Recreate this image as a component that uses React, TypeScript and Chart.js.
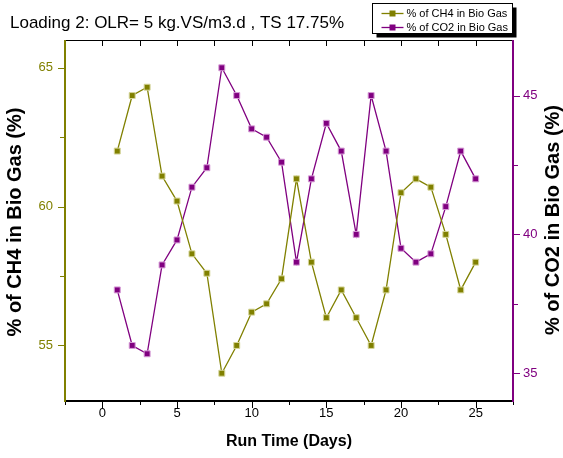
import { useEffect, useRef } from 'react';
import { Chart, registerables } from 'chart.js';

Chart.register(...registerables);

// ---- data ----
const days = [1, 2, 3, 4, 5, 6, 7, 8, 9, 10, 11, 12, 13, 14, 15, 16, 17, 18, 19, 20, 21, 22, 23, 24, 25];
const ch4Percent = [62, 64, 64.3, 61.1, 60.2, 58.3, 57.6, 54, 55, 56.2, 56.5, 57.4, 61, 58, 56, 57, 56, 55, 57, 60.5, 61, 60.7, 59, 57, 58];
const co2Percent = [38, 36, 35.7, 38.9, 39.8, 41.7, 42.4, 46, 45, 43.8, 43.5, 42.6, 39, 42, 44, 43, 40, 45, 43, 39.5, 39, 39.3, 41, 43, 42];
const xTickValues = [0, 5, 10, 15, 20, 25];
const leftTickValues = [55, 60, 65];
const rightTickValues = [35, 40, 45];
const seriesNames = ['% of CH4 in Bio Gas', '% of CO2 in Bio Gas'];
const chartTitle = 'Loading 2: OLR= 5 kg.VS/m3.d , TS 17.75%';
const xTitle = 'Run Time (Days)';
const leftTitle = '% of CH4 in Bio Gas (%)';
const rightTitle = '% of CO2 in Bio Gas (%)';

const OLIVE = '#808000';
const PURPLE = '#800080';
const FONT = '"Liberation Sans", Arial, Helvetica, sans-serif';
const MINOR_STEP = 2.5;

const decor = {
  id: 'decor',
  afterDraw(chart: any) {
    const { ctx, chartArea: a, scales } = chart;
    const xs = scales.x, yl = scales.y, yr = scales.y1;
    ctx.save();
    const line = (x1: number, y1: number, x2: number, y2: number) => {
      ctx.beginPath();
      ctx.moveTo(x1, y1);
      ctx.lineTo(x2, y2);
      ctx.stroke();
    };
    const L = Math.round(a.left), R = Math.round(a.right), T = Math.round(a.top), B = Math.round(a.bottom);

    // x ticks (bottom outward, top inward)
    ctx.strokeStyle = '#000';
    ctx.lineWidth = 1;
    const xStart = Math.ceil(xs.min / MINOR_STEP - 1e-9) * MINOR_STEP;
    for (let v = xStart; v <= xs.max + 1e-9; v += MINOR_STEP) {
      const px = Math.round(xs.getPixelForValue(v)) + 0.5;
      const major = Math.abs(v % 5) < 1e-6;
      line(px, B, px, B + (major ? 7 : 4));
      line(px, T, px, T + 6);
    }
    // left ticks
    ctx.strokeStyle = OLIVE;
    const ylStart = Math.ceil(yl.min / MINOR_STEP - 1e-9) * MINOR_STEP;
    for (let v = ylStart; v <= yl.max + 1e-9; v += MINOR_STEP) {
      const py = Math.round(yl.getPixelForValue(v)) + 0.5;
      const major = Math.abs(v % 5) < 1e-6;
      line(L, py, L - (major ? 7 : 5), py);
    }
    // right ticks
    ctx.strokeStyle = PURPLE;
    const yrStart = Math.ceil(yr.min / MINOR_STEP - 1e-9) * MINOR_STEP;
    for (let v = yrStart; v <= yr.max + 1e-9; v += MINOR_STEP) {
      const py = Math.round(yr.getPixelForValue(v)) + 0.5;
      const major = Math.abs(v % 5) < 1e-6;
      line(R, py, R + (major ? 7 : 5), py);
    }

    // frame
    ctx.strokeStyle = '#000';
    ctx.lineWidth = 1;
    line(L, T + 0.5, R, T + 0.5);
    ctx.lineWidth = 2;
    line(L, B, R, B);
    ctx.strokeStyle = OLIVE;
    ctx.lineWidth = 2;
    line(L, T, L, B + 1);
    ctx.strokeStyle = PURPLE;
    line(R, T, R, B + 1);

    // titles
    ctx.fillStyle = '#000';
    ctx.font = `17px ${FONT}`;
    ctx.textAlign = 'left';
    ctx.textBaseline = 'alphabetic';
    ctx.fillText(chartTitle, 10, 28);

    ctx.font = `bold 16px ${FONT}`;
    ctx.textAlign = 'center';
    ctx.textBaseline = 'middle';
    ctx.fillText(xTitle, (L + R) / 2, 442);

    ctx.font = `bold 20px ${FONT}`;
    ctx.save();
    ctx.translate(15, 222);
    ctx.rotate(-Math.PI / 2);
    ctx.fillText(leftTitle, 0, 0);
    ctx.restore();
    ctx.save();
    ctx.translate(553, 220);
    ctx.rotate(-Math.PI / 2);
    ctx.fillText(rightTitle, 0, 0);
    ctx.restore();

    // legend
    const bx = 372.5, by = 3.5, bw = 140, bh = 30;
    ctx.fillStyle = '#000';
    ctx.fillRect(bx + 4, by + 4, bw, bh);
    ctx.fillStyle = '#fff';
    ctx.fillRect(bx, by, bw, bh);
    ctx.strokeStyle = '#000';
    ctx.lineWidth = 1;
    ctx.strokeRect(bx, by, bw, bh);
    const colors = [OLIVE, PURPLE];
    chart.data.datasets.forEach((ds: any, i: number) => {
      const ly = Math.round(by + 9 + i * 14.5) + 0.5;
      ctx.strokeStyle = colors[i];
      ctx.lineWidth = 1.3;
      line(bx + 9, ly, bx + 31, ly);
      ctx.fillStyle = colors[i];
      ctx.fillRect(bx + 17, ly - 3, 6, 6);
      ctx.fillStyle = '#000';
      ctx.font = `11px ${FONT}`;
      ctx.textAlign = 'left';
      ctx.textBaseline = 'middle';
      ctx.fillText(ds.label, bx + 34, ly);
    });
    ctx.restore();
  },
};

export default function App() {
  const canvasRef = useRef<HTMLCanvasElement | null>(null);

  useEffect(() => {
    const canvas = canvasRef.current;
    if (!canvas) return;
    const chart = new Chart(canvas, {
      type: 'line',
      data: {
        datasets: [
          {
            label: seriesNames[0],
            data: days.map((d, i) => ({ x: d, y: ch4Percent[i] })),
            yAxisID: 'y',
            borderColor: OLIVE,
            backgroundColor: OLIVE,
            pointBackgroundColor: OLIVE,
            pointBorderColor: '#d6d69a',
            pointBorderWidth: 1,
            pointStyle: 'rect',
            pointRadius: 4.2,
            borderWidth: 1.3,
            tension: 0,
            clip: false,
          },
          {
            label: seriesNames[1],
            data: days.map((d, i) => ({ x: d, y: co2Percent[i] })),
            yAxisID: 'y1',
            borderColor: PURPLE,
            backgroundColor: PURPLE,
            pointBackgroundColor: PURPLE,
            pointBorderColor: '#d69ad6',
            pointBorderWidth: 1,
            pointStyle: 'rect',
            pointRadius: 4.2,
            borderWidth: 1.3,
            tension: 0,
            clip: false,
          },
        ],
      },
      options: {
        responsive: false,
        animation: false,
        events: [],
        layout: { padding: { top: 40, left: 0, right: 0, bottom: 0 } },
        plugins: { legend: { display: false }, title: { display: false }, tooltip: { enabled: false } },
        scales: {
          x: {
            type: 'linear',
            position: 'bottom',
            min: -2.5,
            max: 27.5,
            afterBuildTicks: (s: any) => { s.ticks = xTickValues.map((v) => ({ value: v })); },
            afterFit: (s: any) => { s.height = 57; },
            grid: { display: false, drawTicks: false },
            border: { display: false },
            ticks: { color: '#000', font: { family: FONT, size: 13 }, padding: 5, autoSkip: false, maxRotation: 0 },
          },
          y: {
            type: 'linear',
            position: 'left',
            min: 53,
            max: 66,
            afterBuildTicks: (s: any) => { s.ticks = leftTickValues.map((v) => ({ value: v })); },
            afterFit: (s: any) => { s.width = 65; },
            grid: { display: false, drawTicks: false },
            border: { display: false },
            ticks: { color: OLIVE, font: { family: FONT, size: 13 }, padding: 12 },
          },
          y1: {
            type: 'linear',
            position: 'right',
            min: 34,
            max: 47,
            afterBuildTicks: (s: any) => { s.ticks = rightTickValues.map((v) => ({ value: v })); },
            afterFit: (s: any) => { s.width = 50; },
            grid: { display: false, drawTicks: false },
            border: { display: false },
            ticks: { color: PURPLE, font: { family: FONT, size: 13 }, padding: 10 },
          },
        },
      },
      plugins: [decor],
    } as any);
    return () => chart.destroy();
  }, []);

  return (
    <div style={{ position: 'absolute', left: 0, top: 0, width: 563, height: 458 }}>
      <canvas ref={canvasRef} width={563} height={458} style={{ display: 'block' }} />
    </div>
  );
}
